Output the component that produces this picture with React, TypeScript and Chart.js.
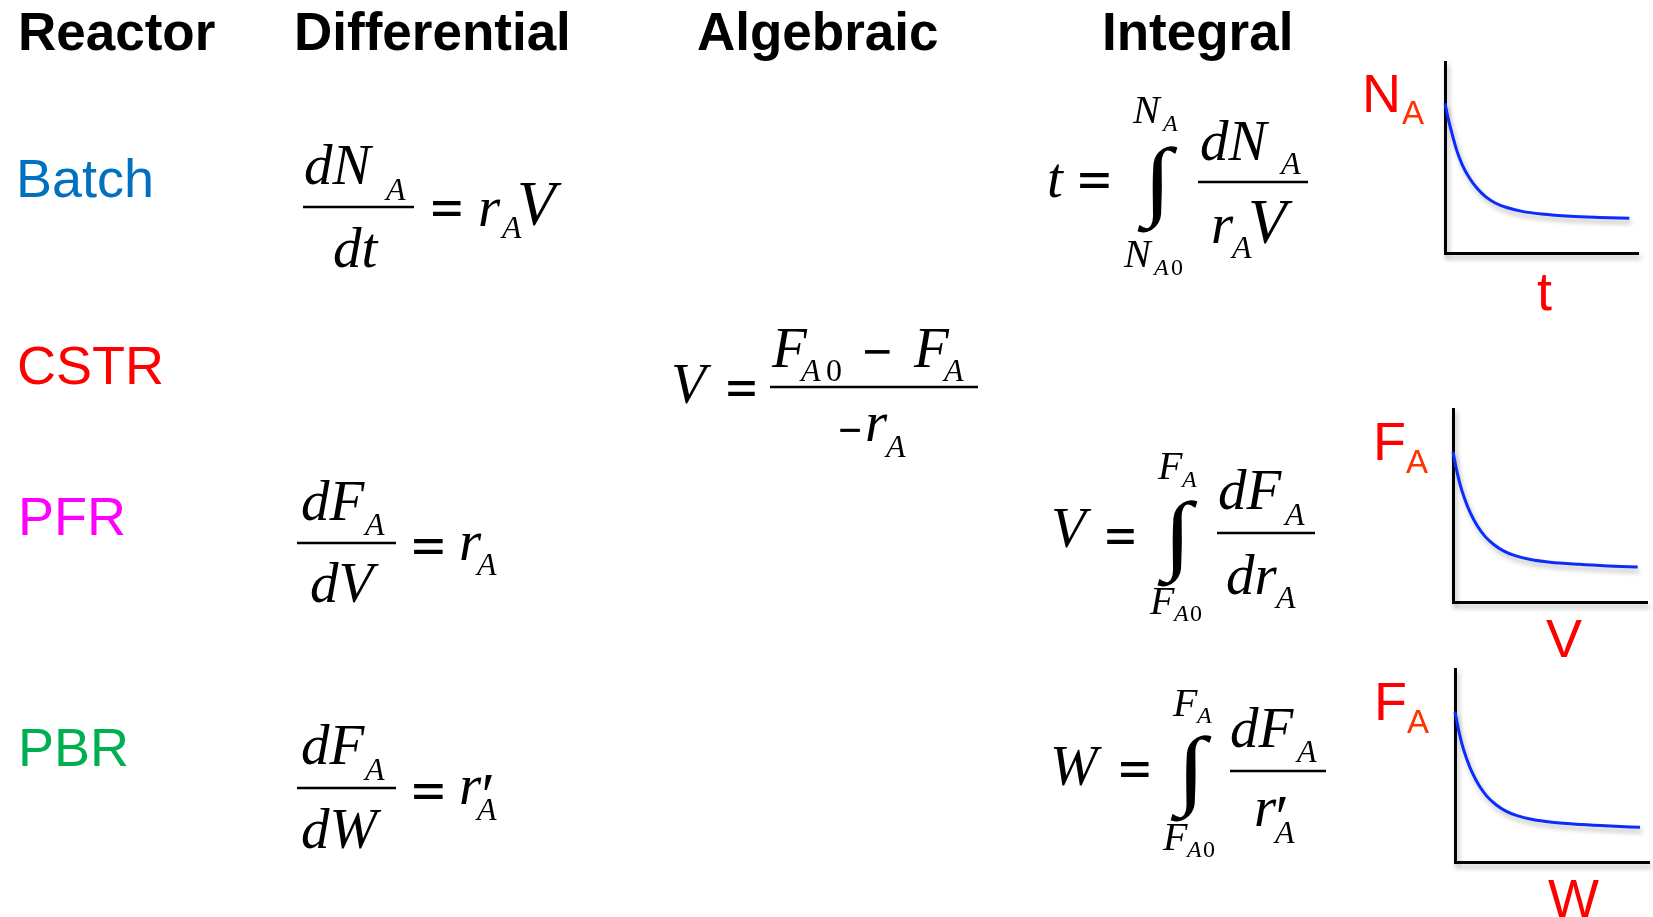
import React, { useEffect, useRef } from 'react';
import { Chart, registerables } from 'chart.js';
Chart.register(...registerables);

// ---------- chart data ----------
const batchTime = [0, 0.15, 0.35, 0.6, 0.9, 1.25, 1.65, 2.1, 2.6, 3.2, 4.0, 5.0, 6.5, 8.0, 9.55];
const batchMolesA = [7.84, 7.1, 6.3, 5.4, 4.6, 3.95, 3.4, 2.95, 2.62, 2.38, 2.18, 2.04, 1.92, 1.86, 1.82];
const pfrVolume = [0, 0.15, 0.35, 0.6, 0.9, 1.25, 1.65, 2.1, 2.6, 3.2, 4.0, 5.0, 6.5, 8.0, 9.52];
const pfrFlowA = [7.79, 7.0, 6.15, 5.35, 4.6, 3.95, 3.4, 2.98, 2.65, 2.4, 2.2, 2.06, 1.95, 1.87, 1.81];
const pbrWeight = [0, 0.15, 0.35, 0.6, 0.9, 1.25, 1.65, 2.1, 2.6, 3.2, 4.0, 5.0, 6.5, 8.0, 9.54];
const pbrFlowA = [7.79, 7.0, 6.15, 5.35, 4.6, 3.95, 3.4, 2.98, 2.65, 2.4, 2.2, 2.06, 1.94, 1.86, 1.8];
const axisMin = 0;
const axisMax = 10;

const headers = ['Reactor', 'Differential', 'Algebraic', 'Integral'];
const reactors = ['Batch', 'CSTR', 'PFR', 'PBR'];

const SERIF = "'Liberation Serif','Times New Roman',Times,serif";
const SANS = "'Liberation Sans',Arial,Helvetica,sans-serif";

const shadowPlugin = {
  id: 'softShadow',
  beforeDraw(chart: any) {
    const c = chart.ctx;
    c.save();
    c.shadowColor = 'rgba(0,0,0,0.28)';
    c.shadowBlur = 5;
    c.shadowOffsetX = 2;
    c.shadowOffsetY = 4;
  },
  afterDraw(chart: any) {
    chart.ctx.restore();
  },
};

function makeChart(canvas: HTMLCanvasElement, xs: number[], ys: number[], pad: any) {
  const axis = {
    type: 'linear' as const,
    min: axisMin,
    max: axisMax,
    grid: { display: false, drawTicks: false },
    ticks: { display: false },
    border: { display: true, color: '#000', width: 3 },
  };
  return new Chart(canvas, {
    type: 'line',
    data: {
      datasets: [
        {
          data: xs.map((x, i) => ({ x, y: ys[i] })),
          borderColor: '#0a2cff',
          borderWidth: 3,
          pointRadius: 0,
          cubicInterpolationMode: 'monotone',
          fill: false,
          clip: false as any,
        },
      ],
    },
    options: {
      animation: false,
      responsive: false,
      maintainAspectRatio: false,
      events: [],
      layout: { autoPadding: false, padding: pad },
      plugins: { legend: { display: false }, tooltip: { enabled: false }, title: { display: false } },
      scales: { x: axis, y: axis },
    },
    plugins: [shadowPlugin],
  } as any);
}

// ---------- glyph fitting for big math symbols ----------
let mctx: CanvasRenderingContext2D | null = null;
function Fit({ ch, family, weight = 'normal', style = 'normal', x0, y0, x1, y1 }: any) {
  if (!mctx) mctx = document.createElement('canvas').getContext('2d');
  const ctx = mctx!;
  ctx.font = `${style} ${weight} 100px ${family}`;
  const m = ctx.measureText(ch);
  const asc = m.actualBoundingBoxAscent;
  const desc = m.actualBoundingBoxDescent;
  const left = m.actualBoundingBoxLeft;
  const right = m.actualBoundingBoxRight;
  const sx = (x1 - x0) / (left + right);
  const sy = (y1 - y0) / (asc + desc);
  return (
    <text
      transform={`translate(${x0 + left * sx},${y0 + asc * sy}) scale(${sx},${sy})`}
      fontSize={100}
      fontFamily={family}
      fontWeight={weight}
      fontStyle={style}
      fill="#000"
    >
      {ch}
    </text>
  );
}

// piece: [text, x, baseline, size, upright?]
type Piece = [string, number, number, number, number?];
const M = 57;
const BV = 63;
const S = 32;
const L = 40;
const LS = 24;

const mathPieces: Piece[] = [
  // Batch differential
  ['dN', 304, 184, M], ['A', 386, 200, S], ['dt', 333, 267, M],
  ['r', 478, 226, M], ['A', 502, 238, S], ['V', 517, 225, BV],
  // Batch integral
  ['t', 1047, 197, M],
  ['N', 1133, 123, L], ['A', 1163, 131, LS],
  ['N', 1124, 267, L], ['A', 1154, 275, LS], ['0', 1171, 275, LS, 1],
  ['dN', 1200, 160, M], ['A', 1281, 174, S],
  ['r', 1211, 243, M], ['A', 1232, 258, S], ['V', 1248, 243, BV],
  // CSTR algebraic
  ['V', 671, 403, M],
  ['F', 772, 367, M], ['A', 801, 381, S], ['0', 826, 381, S, 1],
  ['F', 914, 367, M], ['A', 944, 381, S],
  ['r', 865, 441, M], ['A', 886, 457, S],
  // PFR differential
  ['dF', 301, 520, M], ['A', 365, 535, S], ['dV', 310, 602, M],
  ['r', 459, 560, M], ['A', 477, 575, S],
  // PBR differential
  ['dF', 301, 764, M], ['A', 365, 780, S], ['dW', 301, 848, M],
  ['r', 459, 804, M], ['A', 477, 820, S],
  // PFR integral
  ['V', 1051, 547, M],
  ['F', 1158, 479, L], ['A', 1182, 487, LS],
  ['F', 1150, 614, L], ['A', 1174, 621, LS], ['0', 1190, 621, LS, 1],
  ['dF', 1218, 509, M], ['A', 1285, 525, S],
  ['dr', 1226, 594, M], ['A', 1276, 608, S],
  // PBR integral
  ['W', 1050, 785, M],
  ['F', 1173, 716, L], ['A', 1197, 723, LS],
  ['F', 1163, 850, L], ['A', 1187, 857, LS], ['0', 1203, 857, LS, 1],
  ['dF', 1230, 747, M], ['A', 1297, 762, S],
  ['r', 1254, 826, M], ['A', 1275, 843, S],
];

// fraction bars: [x1, x2, y]
const bars: number[][] = [
  [303, 414, 207], [1198, 1308, 182], [770, 978, 387],
  [297, 396, 543], [297, 396, 788], [1217, 1315, 533], [1230, 1326, 771],
];
// equals boxes: [x0, x1, yCenter]
const equals: number[][] = [
  [433, 461, 209], [1080, 1109, 181], [728, 755, 389],
  [414, 443, 547], [414, 443, 792], [1107, 1134, 537], [1121, 1149, 770],
];
// integral boxes
const integrals: number[][] = [
  [1137, 1178, 146, 233], [1157, 1198, 500, 587], [1170, 1212, 735, 822],
];

const chartBoxes = [
  { left: 1435, top: 52, width: 213, height: 211, pad: { left: 10, right: 10, top: 10, bottom: 10 } },
  { left: 1443, top: 399, width: 210, height: 213, pad: { left: 10, right: 6, top: 10, bottom: 10 } },
  { left: 1445, top: 659, width: 208, height: 213, pad: { left: 10, right: 4, top: 10, bottom: 10 } },
];

export default function App() {
  const r1 = useRef<HTMLCanvasElement>(null);
  const r2 = useRef<HTMLCanvasElement>(null);
  const r3 = useRef<HTMLCanvasElement>(null);

  useEffect(() => {
    const charts = [
      makeChart(r1.current!, batchTime, batchMolesA, chartBoxes[0].pad),
      makeChart(r2.current!, pfrVolume, pfrFlowA, chartBoxes[1].pad),
      makeChart(r3.current!, pbrWeight, pbrFlowA, chartBoxes[2].pad),
    ];
    return () => charts.forEach((c) => c.destroy());
  }, []);

  const refs = [r1, r2, r3];
  const headerX = [18, 294, 697, 1102];
  const rowX = [16, 17, 18, 18];
  const rowY = [197, 384, 535, 766];
  const rowColor = ['#0070C0', '#FF0000', '#FF00FF', '#00B050'];

  const red = '#FF0000';
  const subRed = '#FF3300';

  return (
    <div
      style={{
        position: 'fixed', left: 0, top: 0, width: 1653, height: 917,
        background: '#fff', overflow: 'hidden',
      }}
    >
      {chartBoxes.map((b, i) => (
        <canvas
          key={i}
          ref={refs[i]}
          width={b.width}
          height={b.height}
          style={{ position: 'absolute', left: b.left, top: b.top, width: b.width, height: b.height, display: 'block' }}
        />
      ))}
      <svg width={1653} height={917} style={{ position: 'absolute', left: 0, top: 0 }}>
        {headers.map((h, i) => (
          <text key={h} x={headerX[i]} y={50} fontFamily={SANS} fontWeight="bold" fontSize={53} fill="#000">
            {h}
          </text>
        ))}
        {reactors.map((r, i) => (
          <text key={r} x={rowX[i]} y={rowY[i]} fontFamily={SANS} fontSize={54} fill={rowColor[i]}>
            {r}
          </text>
        ))}
        {mathPieces.map((p, i) => (
          <text
            key={'m' + i}
            x={p[1]}
            y={p[2]}
            fontSize={p[3]}
            fontFamily={SERIF}
            fontStyle={p[4] ? 'normal' : 'italic'}
            fill="#000"
          >
            {p[0]}
          </text>
        ))}
        {bars.map((b, i) => (
          <line key={'b' + i} x1={b[0]} x2={b[1]} y1={b[2]} y2={b[2]} stroke="#000" strokeWidth={2.5} />
        ))}
        {equals.map((e, i) => (
          <Fit key={'e' + i} ch="=" family={SANS} weight="bold" x0={e[0]} x1={e[1]} y0={e[2] - 7.5} y1={e[2] + 7.5} />
        ))}
        {integrals.map((g, i) => (
          <Fit key={'i' + i} ch={'\u222B'} family={SERIF} weight="bold" x0={g[0]} x1={g[1]} y0={g[2]} y1={g[3]} />
        ))}
        {/* minus signs in CSTR */}
        <Fit ch={'\u2212'} family={SANS} weight="bold" x0={865} x1={890} y0={350} y1={354} />
        <Fit ch={'\u2212'} family={SANS} weight="bold" x0={840} x1={860} y0={428.5} y1={432} />
        {/* primes */}
        <Fit ch={'\u2032'} family={SERIF} x0={484} x1={492} y0={776} y1={791} />
        <Fit ch={'\u2032'} family={SERIF} x0={1278} x1={1286} y0={798} y1={813} />

        {/* small chart axis labels */}
        <text x={1362} y={112} fontFamily={SANS} fontSize={54} fill={red}>N</text>
        <text x={1402} y={124} fontFamily={SANS} fontSize={33} fill={subRed}>A</text>
        <text x={1537} y={310} fontFamily={SANS} fontSize={54} fill={red}>t</text>

        <text x={1373} y={460} fontFamily={SANS} fontSize={54} fill={red}>F</text>
        <text x={1406} y={473} fontFamily={SANS} fontSize={33} fill={subRed}>A</text>
        <text x={1546} y={657} fontFamily={SANS} fontSize={54} fill={red}>V</text>

        <text x={1374} y={720} fontFamily={SANS} fontSize={54} fill={red}>F</text>
        <text x={1407} y={733} fontFamily={SANS} fontSize={33} fill={subRed}>A</text>
        <text x={1548} y={917} fontFamily={SANS} fontSize={54} fill={red}>W</text>
      </svg>
    </div>
  );
}
